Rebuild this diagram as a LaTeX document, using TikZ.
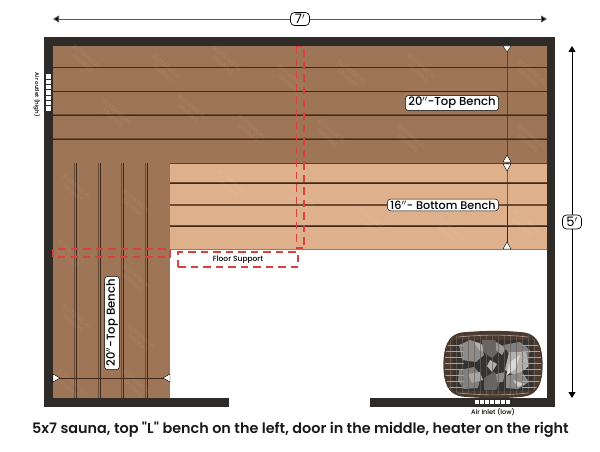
\documentclass[tikz,border=0pt]{standalone}
\usepackage{fontspec}
\setmainfont{Poppins}
\newfontfamily\capfont{Poppins SemiBold}
\newfontfamily\lblfont{Poppins Medium}
\usetikzlibrary{arrows.meta}
\definecolor{wall}{HTML}{2F2B28}
\definecolor{top}{HTML}{9E7556}
\definecolor{bot}{HTML}{DEB18C}
\definecolor{slat}{HTML}{3F2A1A}
\definecolor{slatl}{HTML}{6A4C36}
\definecolor{redd}{HTML}{D94040}
\definecolor{wire}{HTML}{B79F8B}
\definecolor{rim}{HTML}{4A3A30}
\tikzset{
 x=1pt,y=-1pt,
 wallfill/.style={fill=wall,draw=none},
 slatline/.style={draw=slat,line width=1pt},
 slatshade/.style={draw=slatl,line width=.7pt},
 reddash/.style={draw=redd,line width=1.3pt,dash pattern=on 7.5pt off 5pt},
 dimline/.style={draw=black,line width=0.9pt},
 dimtri/.tip={Triangle[length=6pt,width=7pt,fill=black]},
 lbl/.style={draw=black,fill=white,rounded corners=3pt,line width=0.5pt,inner xsep=3pt,inner ysep=1.5pt},
 dimlbl/.style={draw=black,fill=white,rounded corners=4pt,line width=.7pt,inner xsep=3pt,inner ysep=1pt,minimum width=19pt,minimum height=14pt,font=\fontsize{13}{13}\selectfont},
 tri/.style={fill=white,draw=black,line width=0.4pt},
 vent/.style={fill=white,draw=none},
 markt/.style={text=white,opacity=0.09,font=\fontsize{6.5}{7}\selectfont,rotate=-40,align=center},
}
\def\heatershape{(462,333) .. controls (485,331) and (505,331) .. (524,333)
   .. controls (538,335) and (542,348) .. (542,365)
   .. controls (542,382) and (538,394) .. (524,396)
   .. controls (505,398) and (485,398) .. (462,396)
   .. controls (448,394) and (444,382) .. (444,365)
   .. controls (444,348) and (448,335) .. (462,333) -- cycle}
\begin{document}
\begin{tikzpicture}
\useasboundingbox (0,0) rectangle (600,452);
% benches
\fill[top] (53,46) rectangle (547,163);
\fill[top] (53,163) rectangle (170,398);
\fill[bot] (170,163) rectangle (547,249);
% top bench slats
\foreach \y in {68,92,115,139}{
 \draw[slatshade] (53,\y-1) -- (547,\y-1);
 \draw[slatline] (53,\y) -- (547,\y);
}
\draw[slat!70!top,line width=.6pt] (170,163) -- (547,163);
\foreach \y in {183,226}{
 \draw[slatshade] (170,\y-1) -- (547,\y-1);
 \draw[slatline] (170,\y) -- (547,\y);
}
\draw[draw=slatl,line width=1.4pt] (170,205) -- (547,205);
\draw[draw=gray,line width=.8pt] (170,249) -- (547,249);
% left bench slats
\foreach \x in {76,100,123,147}{
 \draw[slatshade] (\x-1.8,163) -- (\x-1.8,398);
 \draw[slatline,line width=.8pt] (\x,163) -- (\x,398);
}
% walls
\fill[wallfill] (44,37) rectangle (555,46);
\fill[wallfill] (44,37) rectangle (53,407);
\fill[wallfill] (547,37) rectangle (555,407);
\fill[wallfill] (44,398) rectangle (229,407);
\fill[wallfill] (370,398) rectangle (555,407);
% watermark
\foreach \x/\y [count=\i] in {85/60,165/70,225/62,290/80,350/75,420/70,530/75,
 115/115,190/110,250/130,330/135,410/140,530/140,
 230/185,300/200,370/222,450/232,525/225,
 75/190,135/205,70/255,135/280,75/320,140/340,70/385,135/385}
 {\node[markt] (wm\i) at (\x,\y) {BOTANICAL\\SAUNAS};}
% red dashed supports
\draw[reddash] (296.5,46.5) -- (296.5,248) -- (304,248) -- (304,46.5) -- cycle;
\draw[reddash] (53,249) rectangle (170,257);
\node[reddash,minimum width=120pt,minimum height=15pt,inner sep=0pt,font=\lblfont\fontsize{7.5}{8}\selectfont] (fs) at (238,259.5) {Floor Support};
% vents
\foreach \i in {0,...,6}{
 \fill[vent] (45.5,74.5+\i*5.3) rectangle (51,78.9+\i*5.3);
}
\foreach \i in {0,...,6}{
 \fill[vent] (474.5+\i*5.2,400) rectangle (478.8+\i*5.2,404);
}
\node[rotate=-90,font=\lblfont\fontsize{5.5}{5.5}\selectfont] (outlet) at (37,95) {Air outlet (high)};
\node[font=\lblfont\fontsize{6.5}{6.5}\selectfont] (inlet) at (493,412) {Air Inlet (low)};
% dimension lines
\coordinate (tl) at (53,19); \coordinate (tr) at (547,19);
\node[dimlbl,minimum height=13pt] (seven) at (300,19) {7$'$};
\draw[dimline,draw=black!65,dimtri-] (tl) -- (seven);
\draw[dimline,draw=black!65,-dimtri] (seven) -- (tr);
\coordinate (rt) at (572,46); \coordinate (rb) at (572,398);
\node[dimlbl] (five) at (572,222) {5$'$};
\draw[dimline,dimtri-] (rt) -- (five);
\draw[dimline,-dimtri] (five) -- (rb);
% inner dimension lines
\coordinate (a1) at (507,46); \coordinate (a2) at (507,163); \coordinate (a3) at (507,249);
\coordinate (l1) at (53,378); \coordinate (l2) at (170,378);
\draw[slat,line width=.8pt] (a1) -- (a2) -- (a3);
\draw[slat,line width=.8pt] (l1) -- (l2);
\fill[tri] (503,46) -- (511,46) -- (507,52) -- cycle;
\fill[tri] (503,162) -- (511,162) -- (507,155) -- cycle;
\fill[tri] (503,164) -- (511,164) -- (507,171) -- cycle;
\fill[tri] (503,249) -- (511,249) -- (507,242) -- cycle;
\fill[tri] (53,374) -- (53,382) -- (60,378) -- cycle;
\fill[tri] (170,374) -- (170,382) -- (163,378) -- cycle;
% labels
\node[lbl,font=\lblfont\fontsize{11.6}{13}\selectfont] (tb) at (452,103) {20$''$-Top Bench};
\node[lbl,font=\lblfont\fontsize{11.2}{12}\selectfont] (bb) at (443,205) {16$''$- Bottom Bench};
\node[lbl,rotate=90,font=\lblfont\fontsize{11.6}{13}\selectfont] (lb) at (112,323) {20$''$-Top Bench};
% heater
\begin{scope}
 \path[clip] \heatershape;
 \fill[rim] (440,330) rectangle (545,400);
 \fill[black!80] (453,340) rectangle (533,391);
 % stones (left, centre, right)
 \fill[black!45] (459,345) -- (470,340) -- (480,343) -- (484,355) -- (476,362) -- (462,360) -- cycle;
 \fill[black!30] (474,342) -- (484,345) -- (487,353) -- (479,350) -- cycle;
 \fill[black!50] (459,370) -- (474,367) -- (481,375) -- (478,388) -- (464,389) -- (458,381) -- cycle;
 \fill[black!35] (468,374) -- (480,372) -- (483,380) -- (472,383) -- cycle;
 \fill[black!60] (482,340) -- (495,340) -- (500,350) -- (492,358) -- (483,352) -- cycle;
 \fill[black!40] (496,342) -- (506,348) -- (502,355) -- (496,350) -- cycle;
 \fill[black!60] (484,378) -- (494,372) -- (501,380) -- (496,390) -- (484,390) -- cycle;
 \fill[black!30] (490,360) -- (497,364) -- (492,372) -- (487,366) -- cycle;
 \fill[black!45] (496,374) -- (505,372) -- (503,382) -- (497,382) -- cycle;
 \fill[black!50] (503,345) -- (520,342) -- (530,350) -- (528,360) -- (512,358) -- cycle;
 \fill[black!30] (509,352) -- (526,352) -- (529,366) -- (516,376) -- (505,370) -- cycle;
 \fill[black!15] (510,362) -- (520,355) -- (516,368) -- (506,376) -- cycle;
 \fill[black!45] (506,376) -- (522,372) -- (529,382) -- (518,389) -- (506,388) -- cycle;
 \fill[black!20] (513,380) -- (525,384) -- (518,387) -- cycle;
 % wires
 \foreach \x in {450,456,462,468,474,480,486,492,498,504,510,516,522,528,534}{
  \draw[draw=wire!60!black,line width=.4pt,opacity=.7] (\x,335) -- (\x,394);
 }
 \foreach \y in {345,351,357,363,369,375,381,387}{
  \draw[draw=wire,line width=.7pt] (445,\y) -- (464,\y);
  \draw[draw=wire,line width=.7pt] (522,\y) -- (541,\y);
 }
\end{scope}
\draw[draw=wire,line width=.6pt] (458,337) .. controls (485,334.5) and (505,334.5) .. (528,337);
\draw[draw=wire,line width=.6pt] (458,393) .. controls (485,395.5) and (505,395.5) .. (528,393);
\draw[draw=rim,line width=1.2pt] \heatershape;
% caption
\node[font=\capfont\fontsize{14.4}{15}\selectfont,text=black!90] (cap) at (300.5,430) {5x7 sauna, top "L" bench on the left, door in the middle, heater on the right};
\end{tikzpicture}
\end{document}
